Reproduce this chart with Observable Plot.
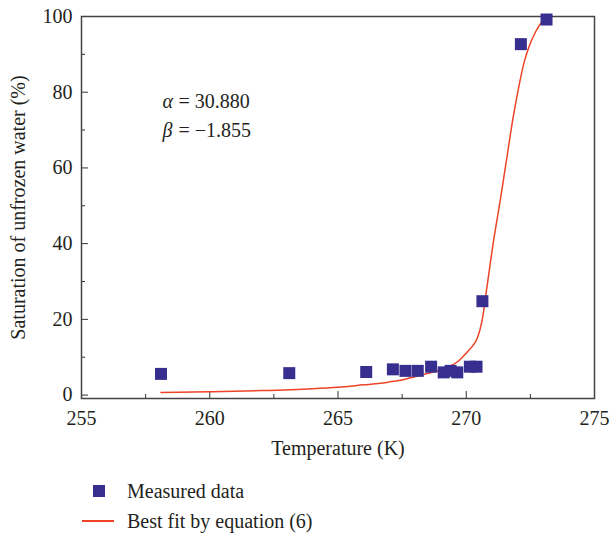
<!DOCTYPE html>
<html><head><meta charset="utf-8">
<script src="https://cdn.jsdelivr.net/npm/d3@7"></script>
<script src="https://cdn.jsdelivr.net/npm/@observablehq/plot@0.6"></script>
<style>
body{margin:0;background:#fff;font-family:"Liberation Serif",serif;color:#231f20}
#legend{position:relative;width:609px;height:68px}
.sw{position:absolute}
.lt{position:absolute;left:127px;font-size:20px;line-height:24px;white-space:nowrap}
</style></head><body><div id="chart"></div>
<div id="legend">
  <div class="sw" style="left:93px;top:19px;width:12px;height:12px;background:#372f8f"></div>
  <div class="lt" style="top:13px">Measured data</div>
  <div class="sw" style="left:82px;top:54px;width:32px;height:1.5px;background:#ee4326"></div>
  <div class="lt" style="top:43px">Best fit by equation (6)</div>
</div>
<script>
// Measured data
const measuredT = [258.1, 263.1, 266.1, 267.14, 267.63, 268.11, 268.63, 269.12, 269.39, 269.65, 270.14, 270.40, 270.63, 272.13, 273.13];
const measuredS = [5.6, 5.8, 6.1, 6.8, 6.4, 6.4, 7.5, 6.0, 6.4, 6.0, 7.5, 7.5, 24.8, 92.7, 99.2];
// Best fit curve
const fitT = [258.1, 260, 262, 264, 265, 266, 266.66, 267.03, 267.5, 267.95, 268.6, 269.26, 269.7, 270.04, 270.25, 270.43, 270.62, 270.81, 271.07, 271.33, 271.59, 271.82, 272.05, 272.24, 272.44, 272.7, 272.95, 273.13];
const fitS = [0.7, 0.9, 1.2, 1.7, 2.1, 2.7, 3.1, 3.5, 4.0, 4.8, 5.9, 7.3, 9.0, 11.4, 13.0, 15.0, 19.8, 28.7, 41.0, 51.6, 63.0, 73.0, 81.5, 87.5, 91.9, 95.9, 98.6, 100];
// Axis ticks
const xMajor = [255, 260, 265, 270, 275];
const xMinor = [257.5, 262.5, 267.5, 272.5];
const yMajor = [0, 20, 40, 60, 80, 100];
const yMinor = [10, 30, 50, 70, 90];
// Annotation
const annoGreek = ["α", "β"];
const annoRest = ["= 30.880", "= −1.855"];
const annoX = [258.16, 258.16];
const annoY = [77.6, 69.9];

const measured = measuredT.map((t, i) => ({t, s: measuredS[i]}));
const fit = fitT.map((t, i) => ({t, s: fitS[i]}));
const anno = annoGreek.map((g, i) => ({g, r: annoRest[i], x: annoX[i], y: annoY[i]}));

const chart = Plot.plot({
  width: 609, height: 466,
  marginLeft: 81, marginRight: 15, marginTop: 16, marginBottom: 68,
  style: {fontFamily: '"Liberation Serif", serif', fontSize: "20px", color: "#231f20", background: "#fff"},
  x: {domain: [255, 275]},
  y: {domain: [-0.9, 100]},
  marks: [
    Plot.axisX({ticks: xMinor, tickSize: -4, fill: "none", label: null, stroke: "#333"}),
    Plot.axisX({ticks: xMajor, tickSize: -7, fill: "none", label: null, stroke: "#333"}),
    Plot.axisX({ticks: xMajor, tickSize: 0, tickPadding: 12, tickFormat: d => String(d), label: "Temperature (K)", labelAnchor: "center", labelOffset: 56, labelArrow: "none"}),
    Plot.axisY({ticks: yMinor, tickSize: -4, fill: "none", label: null, stroke: "#333"}),
    Plot.axisY({ticks: yMajor, tickSize: -7, fill: "none", label: null, stroke: "#333"}),
    Plot.axisY({ticks: yMajor, tickSize: 0, tickPadding: 9, tickFormat: d => String(d), label: "Saturation of unfrozen water (%)", labelAnchor: "center", labelOffset: 71, labelArrow: "none"}),
    Plot.frame({stroke: "#444", strokeWidth: 1.5}),
    Plot.line(fit, {x: "t", y: "s", stroke: "#ee4326", strokeWidth: 1.5, curve: "monotone-x"}),
    Plot.dot(measured, {x: "t", y: "s", symbol: "square", r: 6.77, fill: "#372f8f", stroke: "none"}),
    Plot.text(anno, {x: "x", y: "y", text: "g", fontStyle: "italic", textAnchor: "start"}),
    Plot.text(anno, {x: "x", y: "y", text: "r", textAnchor: "start", dx: 16})
  ]
});
document.getElementById("chart").appendChild(chart);
</script>
</body></html>
